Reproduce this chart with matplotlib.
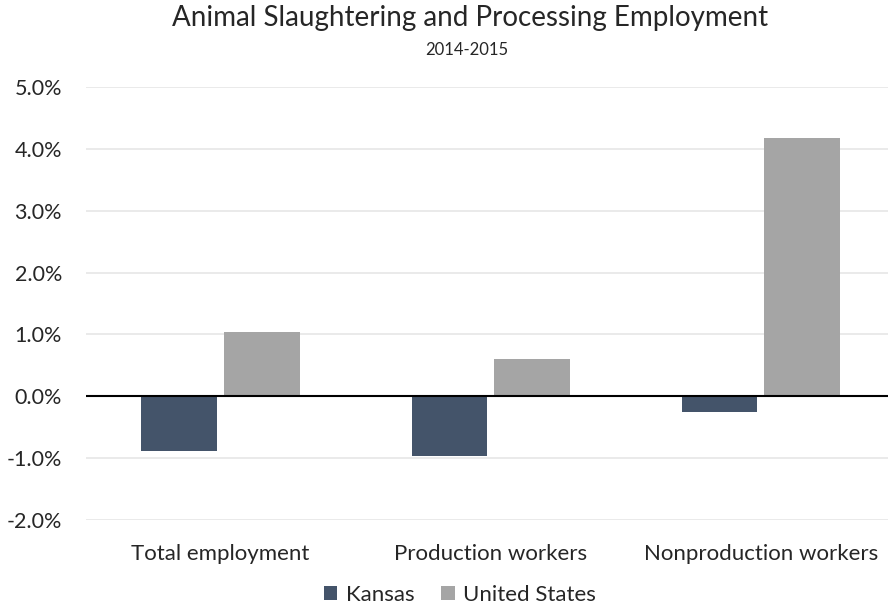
import matplotlib
matplotlib.use("Agg")
import matplotlib.pyplot as plt
import numpy as np
from matplotlib.ticker import FuncFormatter

categories = ["Total employment", "Production workers", "Nonproduction workers"]
kansas = [-0.89, -0.97, -0.26]
united_states = [1.04, 0.60, 4.18]
series_names = ["Kansas", "United States"]
yticks = [-2, -1, 0, 1, 2, 3, 4, 5]

plt.rcParams['font.family'] = ['Lato', 'DejaVu Sans']
txt = '#262626'

fig = plt.figure(figsize=(8.88, 6.09), dpi=100)
L, R = 85.5 / 888, 896 / 888
B, T = 1 - 520 / 609, 1 - 87 / 609
ax = fig.add_axes([L, B, R - L, T - B])

x = np.arange(len(categories))
w = 0.28
off = 0.153
ax.bar(x - off, kansas, width=w, color='#44546A', label=series_names[0], zorder=3)
ax.bar(x + off, united_states, width=w, color='#A5A5A5', label=series_names[1], zorder=3)

ax.set_xlim(-0.5, 2.5)
ax.set_ylim(-2, 5)
ax.set_yticks(yticks)
ax.yaxis.set_major_formatter(FuncFormatter(lambda v, p: f"{v:.1f}%"))
ax.grid(axis='y', color='#E6E6E6', linewidth=1.2, zorder=0)
ax.axhline(0, color='black', linewidth=1.5, zorder=4)
for s in ax.spines.values():
    s.set_visible(False)
ax.tick_params(axis='both', length=0, colors=txt)
ax.tick_params(axis='y', pad=17, labelsize=15.5)
ax.tick_params(axis='x', pad=17, labelsize=16)
ax.set_xticks(x)
ax.set_xticklabels(categories)

fig.text(470 / 888, 1 - 18 / 609, "Animal Slaughtering and Processing Employment",
         ha='center', va='center', fontsize=20, color=txt)
fig.text(467 / 888, 1 - 50 / 609, "2014-2015", ha='center', va='center', fontsize=12, color=txt)

fig.legend(loc='center', bbox_to_anchor=(460 / 888, 1 - 595 / 609), ncol=2, frameon=False,
           fontsize=16, handlelength=0.6, handleheight=0.6, handletextpad=0.4,
           columnspacing=1.2, labelcolor=txt)

fig.savefig('out.png', dpi=100)
